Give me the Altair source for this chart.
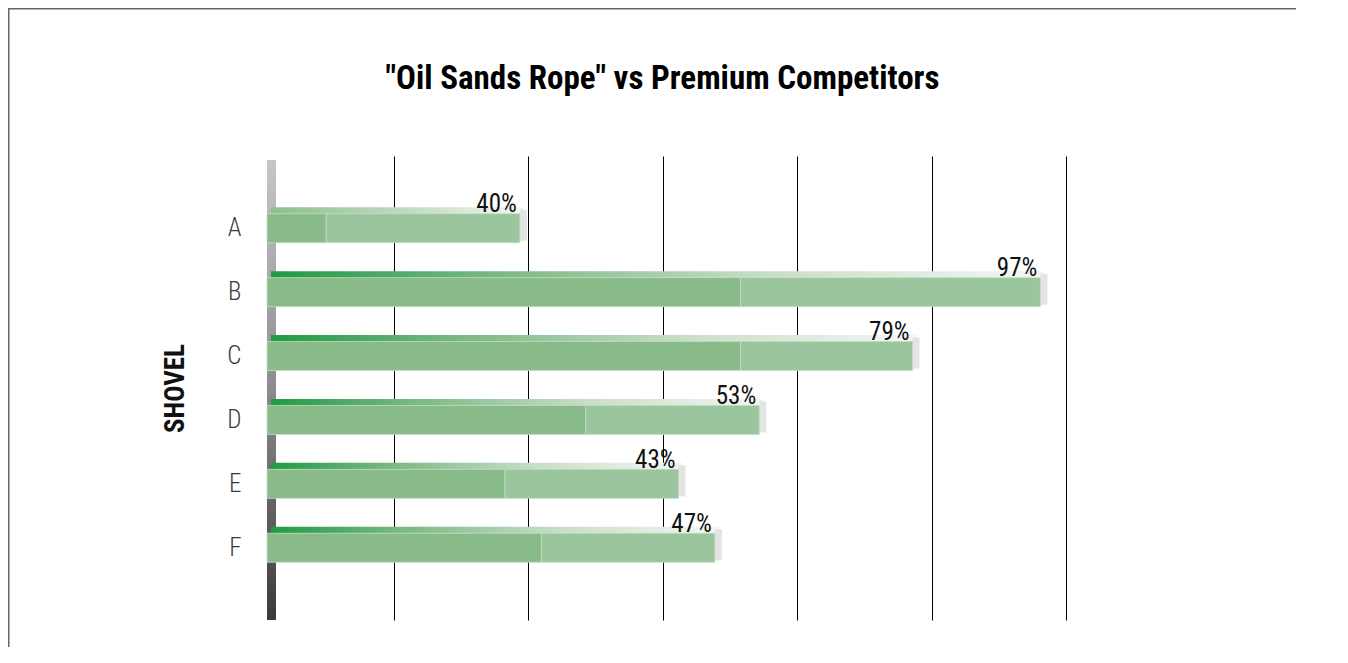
import altair as alt
import pandas as pd

# ---- data ----
shovels = ["A", "B", "C", "D", "E", "F"]
competitor = [0.44, 3.52, 3.52, 2.37, 1.77, 2.04]      # darker front segment
oil_sands_gain = [1.44, 2.23, 1.28, 1.29, 1.29, 1.29]  # lighter front segment
pct_labels = ["40%", "97%", "79%", "53%", "43%", "47%"]
grid_values = [1, 2, 3, 4, 5, 6]

totals = [round(c + g, 2) for c, g in zip(competitor, oil_sands_gain)]
df = pd.DataFrame({"shovel": shovels, "total": totals, "label": pct_labels})
seg = pd.DataFrame({
    "shovel": shovels * 2,
    "start": [0.0] * 6 + competitor,
    "end": competitor + totals,
    "segment": ["Premium Competitors"] * 6 + ["Oil Sands Rope"] * 6,
})

FONT = "Liberation Sans Narrow, Roboto Condensed, Roboto, sans-serif"
W, H = 807, 464
DEPTH = 8
PAD = {"left": 251, "top": 148, "right": 270, "bottom": 30}

yscale = alt.Scale(domain=shovels, paddingInner=0.5, paddingOuter=0.88)
xscale = alt.Scale(domain=[0, 6], nice=False, zero=True)

Y_AXIS = alt.Axis(
    title="SHOVEL", ticks=False, domain=False, grid=False, labelPadding=18,
    labelFont=FONT, labelFontSize=25, labelColor="#3a3a3a", labelFontWeight=300,
    titleFont=FONT, titleFontSize=27, titleFontWeight="bold", titleColor="#111111",
    titleAngle=-90, titleX=-83.5, titleY=H / 2, titleAlign="center", titleBaseline="middle")
X_AXIS = alt.Axis(
    values=grid_values, grid=True, gridColor="#000000", gridWidth=1, gridOpacity=1,
    labels=False, ticks=False, domain=False, title=None)


def Y():
    return alt.Y("shovel:N", scale=yscale, sort=shovels, axis=Y_AXIS, title="SHOVEL")


def X(field):
    return alt.X(field, scale=xscale, axis=X_AXIS, title=None)


# outer frame (top/left edges) as thin filled strips, kept well inside the drawing
right_edge = W + 230
bottom_edge = H + PAD["bottom"] - 3
frame_top = alt.Chart(pd.DataFrame({"f": [0]})).mark_rect(color="#666666").encode(
    x=alt.value(-PAD["left"]), x2=alt.value(right_edge),
    y=alt.value(-PAD["top"]), y2=alt.value(-PAD["top"] + 1.5))
frame_left = alt.Chart(pd.DataFrame({"f": [0]})).mark_rect(color="#666666").encode(
    x=alt.value(-PAD["left"]), x2=alt.value(-PAD["left"] + 1.5),
    y=alt.value(-PAD["top"]), y2=alt.value(bottom_edge))

# side wall (3D)
wall_grad = alt.Gradient(gradient="linear", x1=0, y1=0, x2=0, y2=1, stops=[
    alt.GradientStop(offset=0, color="#c6c6ca"),
    alt.GradientStop(offset=0.5, color="#8c8c90"),
    alt.GradientStop(offset=1, color="#3a3a3a")])
wall = alt.Chart(pd.DataFrame({"w": [0]})).mark_rect(color=wall_grad).encode(
    x=alt.value(DEPTH), x2=alt.value(DEPTH + 9), y=alt.value(4), y2=alt.value(H))

top_grad = alt.Gradient(gradient="linear", x1=0, y1=0, x2=1, y2=0, stops=[
    alt.GradientStop(offset=0, color="#1f9a46"),
    alt.GradientStop(offset=0.3, color="#7db985"),
    alt.GradientStop(offset=0.65, color="#c9dfc9"),
    alt.GradientStop(offset=1, color="#f3f6f3")])
top_grad_a = alt.Gradient(gradient="linear", x1=0, y1=0, x2=1, y2=0, stops=[
    alt.GradientStop(offset=0, color="#8dbf8f"),
    alt.GradientStop(offset=0.5, color="#bcd9bd"),
    alt.GradientStop(offset=1, color="#f4f6f4")])

top_faces = alt.Chart(df).transform_filter(alt.datum.shovel != "A").mark_bar(
    size=7, yOffset=-17.5, xOffset=DEPTH + 4, x2Offset=DEPTH + 4, color=top_grad
).encode(y=Y(), x=X("total:Q"))
top_face_a = alt.Chart(df).transform_filter(alt.datum.shovel == "A").mark_bar(
    size=7, yOffset=-17.5, xOffset=DEPTH + 4, x2Offset=DEPTH + 4, color=top_grad_a
).encode(y=Y(), x=X("total:Q"))

side_faces = alt.Chart(df).mark_bar(
    size=31, yOffset=-3, xOffset=DEPTH, x2Offset=DEPTH + 7, color="#e4e4e4"
).encode(y=Y(), x=X("total:Q"), x2="total:Q")

fronts = alt.Chart(seg).mark_bar(
    size=29, xOffset=DEPTH, x2Offset=DEPTH, stroke="#c3ddc3", strokeWidth=0.8
).encode(
    y=Y(), x=X("start:Q"), x2="end:Q",
    color=alt.Color("segment:N", legend=None, scale=alt.Scale(
        domain=["Premium Competitors", "Oil Sands Rope"], range=["#89ba89", "#9bc59c"])))

texts = alt.Chart(df).mark_text(
    align="right", baseline="alphabetic", dx=DEPTH - 3, dy=-16,
    font=FONT, fontSize=25, color="#111111"
).encode(y=Y(), x=X("total:Q"), text="label:N")

chart = alt.layer(frame_top, frame_left, wall, top_faces, top_face_a, side_faces, fronts, texts).properties(
    width=W, height=H,
    background="white",
    title=alt.TitleParams('"Oil Sands Rope" vs Premium Competitors', font=FONT, fontSize=33,
                          fontWeight="bold", color="#000000", anchor="middle", frame="group",
                          baseline="alphabetic", offset=-114),
    padding=PAD,
    autosize=alt.AutoSizeParams(type="none"),
).configure_view(stroke=None)

chart.save("out.html", embed_options={"renderer": "svg", "actions": False})
